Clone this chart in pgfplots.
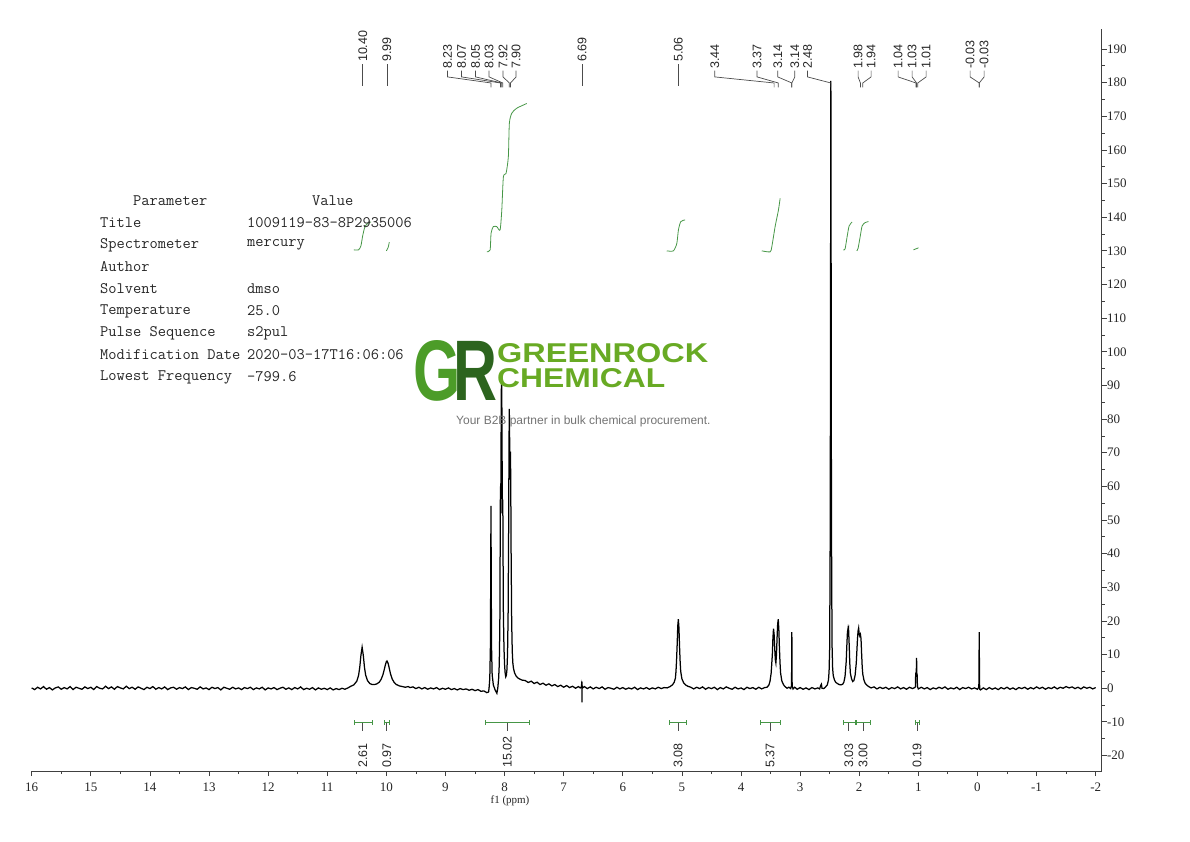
\documentclass[border=0pt]{standalone}
\usepackage{fontspec}
\usepackage{graphicx}
\usepackage{pgfplots}
\pgfplotsset{compat=1.18}
\setmainfont{Liberation Serif}
\newfontfamily\sansf{Liberation Sans}

\definecolor{intg}{RGB}{70,150,70}
\definecolor{grG}{RGB}{76,156,40}
\definecolor{grR}{RGB}{44,100,30}
\definecolor{grT}{RGB}{104,170,36}

% peak label with a straight line
\newcommand{\psl}[2]{%
  \draw[black!70, line width=0.7pt] (axis cs:#1,185.4) -- (axis cs:#1,179.0);
  \node[rotate=90, anchor=west, inner sep=0pt, text=black!85, font=\sansf\fontsize{12.5}{14}\selectfont] at (axis cs:#1,186.1) {#2};}
% peak label of a group: label ppm, peak ppm, text
\newcommand{\pgl}[3]{%
  \draw[black!70, line width=0.7pt] (axis cs:#1,183.6) -- (axis cs:#1,181.7) -- (axis cs:#2,179.9) -- (axis cs:#2,178.6);
  \node[rotate=90, anchor=west, inner sep=0pt, text=black!85, font=\sansf\fontsize{12.5}{14}\selectfont] at (axis cs:#1,184.1) {#3};}
% integral bracket: from, to, centre, value
\newcommand{\brk}[4]{%
  \draw[intg, line width=0.8pt] (axis cs:#1,-10.2) -- (axis cs:#2,-10.2);
  \draw[intg, line width=0.8pt] (axis cs:#1,-9.5) -- (axis cs:#1,-10.9);
  \draw[intg, line width=0.8pt] (axis cs:#2,-9.5) -- (axis cs:#2,-10.9);
  \draw[black!70, line width=0.8pt] (axis cs:#3,-10.2) -- (axis cs:#3,-12.7);
  \node[rotate=90, anchor=west, inner sep=0pt, text=black!85, font=\sansf\fontsize{12.5}{14}\selectfont] at (axis cs:#3,-23.7) {#4};}

\begin{document}
\begin{tikzpicture}
\useasboundingbox (0,0) rectangle (1190pt,-841pt);
\begin{axis}[
  at={(31.7pt,-771pt)}, anchor=south west,
  scale only axis, width=1069.9pt, height=742.2pt,
  x dir=reverse, xmin=-2.1, xmax=16, ymin=-24.6, ymax=196,
  axis x line*=bottom, axis y line*=right,
  axis line style={-, black!75, line width=0.8pt},
  xtick={-2,-1,...,16}, ytick={-20,-10,...,190},
  minor x tick num=1, minor y tick num=1,
  tick align=outside, major tick length=5pt, minor tick length=3pt,
  tick style={black!75, line width=0.8pt},
  ticklabel style={font=\fontsize{13}{15}\selectfont, text=black!85},
  xticklabel style={yshift=-3pt},
  yticklabel style={xshift=-3pt},
  /pgf/number format/assume math mode=true,
  clip=false,
]
% spectrum
\addplot[black, line width=1.25pt, mark=none] table {
x y
16.00 0.1
15.95 -0.4
15.90 0.3
15.85 -0.2
15.80 0.5
15.75 -0.3
15.70 0.2
15.65 -0.5
15.60 0.1
15.55 0.4
15.50 -0.3
15.45 0.2
15.40 -0.2
15.35 0.5
15.30 -0.4
15.25 0.3
15.20 0.0
15.15 -0.3
15.10 0.4
15.05 -0.1
15.00 0.3
14.95 -0.4
14.90 0.5
14.85 0.0
14.80 -0.2
14.75 0.6
14.70 -0.1
14.65 0.4
14.60 -0.3
14.55 0.5
14.50 0.1
14.45 -0.2
14.40 0.6
14.35 -0.1
14.30 0.3
14.25 -0.3
14.20 0.4
14.15 0.0
14.10 -0.4
14.05 0.3
14.00 -0.1
13.95 0.5
13.90 -0.3
13.85 0.2
13.80 -0.2
13.75 0.4
13.70 -0.4
13.65 0.1
13.60 0.3
13.55 -0.3
13.50 0.2
13.45 -0.1
13.40 0.4
13.35 -0.4
13.30 0.2
13.25 0.0
13.20 -0.3
13.15 0.4
13.10 -0.2
13.05 0.1
13.00 -0.4
12.95 0.3
12.90 -0.1
12.85 0.2
12.80 -0.5
12.75 0.3
12.70 0.0
12.65 -0.3
12.60 0.3
12.55 -0.2
12.50 0.1
12.45 -0.4
12.40 0.2
12.35 -0.1
12.30 0.3
12.25 -0.4
12.20 0.1
12.15 -0.2
12.10 0.3
12.05 -0.5
12.00 0.1
11.95 -0.2
11.90 0.2
11.85 -0.4
11.80 0.0
11.75 0.3
11.70 -0.3
11.65 0.1
11.60 -0.4
11.55 0.2
11.50 -0.2
11.45 0.4
11.40 -0.4
11.35 0.0
11.30 -0.3
11.25 0.2
11.20 -0.5
11.15 0.1
11.10 -0.3
11.05 0.0
11.00 -0.4
10.95 0.1
10.90 -0.5
10.85 -0.1
10.80 -0.4
10.75 0.0
10.70 -0.3
10.65 0.1
10.60 0.6
10.55 1.0
10.50 2.1
10.47 3.8
10.45 6.2
10.43 9.8
10.41 12.2
10.39 9.8
10.37 6.2
10.35 3.9
10.32 2.3
10.28 1.4
10.24 1.1
10.20 1.1
10.16 1.3
10.12 1.8
10.09 2.6
10.06 3.9
10.04 5.2
10.02 6.7
10.00 7.9
9.99 8.1
9.97 7.4
9.95 5.9
9.93 4.3
9.90 2.7
9.87 1.8
9.83 1.1
9.78 0.7
9.73 0.5
9.68 0.3
9.63 0.5
9.60 0.2
9.55 0.4
9.50 -0.1
9.45 0.3
9.40 -0.2
9.35 0.2
9.30 -0.3
9.25 0.1
9.20 -0.2
9.15 0.2
9.10 -0.4
9.05 0.0
9.00 -0.3
8.95 0.1
8.90 -0.4
8.85 -0.1
8.80 -0.5
8.75 -0.1
8.70 -0.4
8.65 -0.2
8.60 -0.6
8.55 -0.3
8.50 -0.7
8.45 -0.4
8.40 -0.9
8.35 -0.8
8.30 -1.3
8.27 -1.1
8.26 0.5
8.25 3
8.24 12
8.235 30
8.23 54.2
8.225 30
8.22 12
8.21 4
8.19 1
8.16 -0.5
8.13 -1.5
8.115 0
8.10 3
8.09 7
8.08 18
8.075 40
8.07 60
8.065 52
8.06 70
8.055 88
8.05 93.5
8.045 82
8.04 62
8.035 52
8.03 56
8.025 38
8.02 22
8.01 12
8.00 7
7.99 4.5
7.98 3.4
7.97 3.8
7.96 5.5
7.95 10
7.94 22
7.93 50
7.925 72
7.92 83
7.915 76
7.91 62
7.905 66
7.90 70.3
7.895 60
7.89 42
7.88 20
7.87 11
7.86 7.5
7.85 6
7.83 4.5
7.80 3.5
7.77 3.0
7.74 2.7
7.70 2.4
7.65 2.3
7.60 1.7
7.55 2.1
7.50 1.4
7.45 1.8
7.40 1.1
7.35 1.5
7.30 0.9
7.25 1.3
7.20 0.7
7.15 1.1
7.10 0.5
7.05 0.9
7.00 0.3
6.95 0.8
6.90 0.2
6.85 0.6
6.80 0.0
6.75 0.5
6.72 0.1
6.70 0.4
6.692 2.0
6.690 -4.2
6.688 0.8
6.68 0.1
6.65 0.5
6.60 -0.1
6.55 0.4
6.50 -0.2
6.45 0.3
6.40 -0.1
6.35 0.4
6.30 -0.3
6.25 0.2
6.20 0.0
6.15 -0.3
6.10 0.3
6.05 -0.2
6.00 0.2
5.95 -0.3
5.90 0.1
5.85 -0.2
5.80 0.3
5.75 -0.4
5.70 0.1
5.65 -0.2
5.60 0.2
5.55 -0.3
5.50 0.1
5.45 -0.2
5.40 0.3
5.35 -0.1
5.30 0.2
5.25 0.1
5.20 0.5
5.16 1.0
5.13 1.8
5.11 3.0
5.10 5
5.09 8.5
5.08 13
5.07 18.5
5.06 20.5
5.05 18
5.04 12.5
5.03 8
5.02 5
5.00 2.8
4.97 1.6
4.93 0.9
4.90 0.6
4.85 0.3
4.80 -0.2
4.75 0.3
4.70 -0.1
4.65 0.4
4.60 -0.3
4.55 0.2
4.50 -0.1
4.45 0.3
4.40 -0.4
4.35 0.2
4.30 -0.2
4.25 0.4
4.20 0.0
4.15 -0.3
4.10 0.3
4.05 -0.2
4.00 0.1
3.95 -0.4
3.90 0.3
3.85 -0.1
3.80 0.2
3.75 -0.3
3.70 0.3
3.65 -0.2
3.60 0.2
3.56 0.3
3.53 0.9
3.51 2.0
3.49 4.5
3.47 10
3.46 15
3.45 17.7
3.44 16
3.43 12
3.42 8.5
3.41 7.5
3.40 10
3.39 15
3.38 19
3.37 20.5
3.36 17.5
3.35 12
3.34 7.5
3.33 4.5
3.31 2.2
3.28 1.0
3.25 0.4
3.22 0.0
3.19 0.3
3.16 -0.1
3.145 0.8
3.14 16.7
3.135 0.8
3.12 -0.2
3.09 0.3
3.05 -0.3
3.00 0.2
2.95 -0.3
2.90 0.1
2.85 -0.4
2.80 0.2
2.75 -0.2
2.70 0.1
2.67 -0.2
2.65 0.9
2.64 1.2
2.63 0.0
2.60 -0.1
2.57 0.4
2.54 1.0
2.52 2.5
2.51 5
2.50 12
2.49 50
2.485 120
2.48 180.5
2.475 120
2.47 50
2.46 13
2.45 6
2.44 3.8
2.42 2.5
2.40 1.8
2.37 1.4
2.34 1.1
2.31 1.0
2.28 1.2
2.26 1.8
2.24 3.5
2.22 8
2.21 12.5
2.20 16.5
2.19 17.7
2.185 17
2.18 17.4
2.17 13
2.16 7.5
2.15 4.5
2.13 2.8
2.11 2.0
2.09 2.3
2.07 3.8
2.05 7.5
2.04 11
2.03 14.5
2.02 17
2.01 17.9
2.00 16
1.99 15.5
1.98 16
1.97 14.8
1.96 10.5
1.95 6.5
1.94 4.2
1.92 2.4
1.90 1.5
1.87 0.9
1.84 0.5
1.80 0.1
1.75 0.4
1.70 -0.2
1.65 0.3
1.60 -0.1
1.55 0.3
1.50 -0.3
1.45 0.2
1.40 -0.1
1.35 0.4
1.30 -0.2
1.25 0.2
1.20 -0.3
1.15 0.3
1.10 -0.1
1.06 0.2
1.05 0.4
1.045 4.2
1.04 4.6
1.035 4.3
1.03 9.0
1.025 4.4
1.02 4.0
1.015 0.5
1.00 -0.2
0.95 0.3
0.90 -0.2
0.85 0.2
0.80 -0.4
0.75 0.1
0.70 -0.2
0.65 0.3
0.60 -0.1
0.55 0.4
0.50 -0.3
0.45 0.1
0.40 -0.2
0.35 0.3
0.30 -0.4
0.25 0.2
0.20 -0.1
0.15 0.3
0.10 -0.2
0.05 0.1
0.00 -0.3
-0.02 0.2
-0.025 1.5
-0.03 16.7
-0.035 1.5
-0.04 -0.3
-0.05 -0.5
-0.10 0.1
-0.15 -0.4
-0.20 0.2
-0.25 -0.3
-0.30 0.1
-0.35 -0.4
-0.40 0.2
-0.45 -0.2
-0.50 0.3
-0.55 -0.3
-0.60 0.1
-0.65 -0.4
-0.70 0.2
-0.75 -0.1
-0.80 0.3
-0.85 -0.3
-0.90 0.2
-0.95 -0.2
-1.00 0.4
-1.05 -0.1
-1.10 0.3
-1.15 -0.3
-1.20 0.2
-1.25 -0.1
-1.30 0.4
-1.35 -0.2
-1.40 0.3
-1.45 0.0
-1.50 0.5
-1.55 0.1
-1.60 0.4
-1.65 -0.1
-1.70 0.3
-1.75 -0.2
-1.80 0.4
-1.85 0.0
-1.90 0.3
-1.95 -0.2
-2.00 0.2
};

% integral curves
\addplot[intg, line width=0.8pt, smooth, tension=0.4] coordinates {
(10.55,130.3) (10.47,130.3) (10.43,131.5) (10.40,134.5) (10.36,137.3) (10.30,138.3) (10.26,138.6)};
\addplot[intg, line width=0.8pt, smooth, tension=0.4] coordinates {
(10.00,130.0) (9.97,131.0) (9.95,132.6)};
\addplot[intg, line width=0.8pt, smooth, tension=0.4] coordinates {
(8.301,129.75) (8.245,130.25) (8.228,135.3) (8.190,137.2) (8.132,137.2) (8.076,136.2)
(8.047,142.1) (8.020,152.0) (7.975,153.0) (7.936,158.0) (7.919,167.9) (7.878,170.9)
(7.794,172.4) (7.624,173.8)};
\addplot[intg, line width=0.8pt, smooth, tension=0.4] coordinates {
(5.256,130.0) (5.144,130.0) (5.086,132.2) (5.059,136.2) (5.019,138.7) (4.946,139.2)};
\addplot[intg, line width=0.8pt, smooth, tension=0.4] coordinates {
(3.648,130.0) (3.508,129.7) (3.479,131.2) (3.423,137.2) (3.367,142.1) (3.338,145.6)};
\addplot[intg, line width=0.8pt, smooth, tension=0.4] coordinates {
(2.267,130.3) (2.239,130.6) (2.205,134.2) (2.171,137.4) (2.120,138.6)};
\addplot[intg, line width=0.8pt, smooth, tension=0.4] coordinates {
(2.041,130.0) (2.019,130.8) (1.985,134.1) (1.951,137.4) (1.900,138.4) (1.844,138.7)};
\addplot[intg, line width=0.8pt] coordinates {
(1.083,130.3) (0.998,130.9)};

% peak labels
\psl{10.40}{10.40}
\psl{9.99}{9.99}
\psl{6.69}{6.69}
\psl{5.06}{5.06}
\pgl{8.964}{8.23}{8.23}
\pgl{8.727}{8.07}{8.07}
\pgl{8.491}{8.05}{8.05}
\pgl{8.262}{8.03}{8.03}
\pgl{8.025}{7.92}{7.92}
\pgl{7.805}{7.90}{7.90}
\pgl{4.443}{3.44}{3.44}
\pgl{3.728}{3.37}{3.37}
\pgl{3.379}{3.14}{3.14}
\pgl{3.090}{3.14}{3.14}
\pgl{2.875}{2.48}{2.48}
\pgl{2.019}{1.98}{1.98}
\pgl{1.799}{1.94}{1.94}
\pgl{1.342}{1.04}{1.04}
\pgl{1.105}{1.03}{1.03}
\pgl{0.868}{1.01}{1.01}
\pgl{0.124}{-0.03}{-0.03}
\pgl{-0.113}{-0.03}{-0.03}

% integral brackets and values
\brk{10.541}{10.230}{10.400}{2.61}
\brk{10.039}{9.955}{9.993}{0.97}
\brk{8.318}{7.585}{7.953}{15.02}
\brk{5.212}{4.917}{5.064}{3.08}
\brk{3.665}{3.338}{3.508}{5.37}
\brk{2.267}{2.069}{2.176}{3.03}
\brk{2.052}{1.815}{1.934}{3.00}
\brk{1.054}{0.981}{1.020}{0.19}
\end{axis}

\begin{scope}[x=1pt, y=-1pt]
\node[font=\fontsize{11}{13}\selectfont, text=black!85] at (510,801) {f1 (ppm)};
% parameter table
\begin{scope}[every node/.style={anchor=west, inner sep=0pt, text=black!85, font=\ttfamily\fontsize{16}{18}\selectfont}]
\node at (133,201) {Parameter};
\node at (312,201) {Value};
\node at (100,223) {Title};
\node at (247,223) {1009119-83-8P2935006};
\node at (100,245) {Spectrometer};
\node at (247,245) {mercury};
\node at (100,267) {Author};
\node at (100,289) {Solvent};
\node at (247,289) {dmso};
\node at (100,311) {Temperature};
\node at (247,311) {25.0};
\node at (100,333) {Pulse Sequence};
\node at (247,333) {s2pul};
\node at (100,355) {Modification Date};
\node at (247,355) {2020-03-17T16:06:06};
\node at (100,377) {Lowest Frequency};
\node at (247,377) {-799.6};
\end{scope}
% watermark
\node[anchor=north west, inner sep=0pt] at (413,340)
  {\resizebox{84pt}{60pt}{\sansf\bfseries{\color{grG}G}\kern-0.12em{\color{grR}R}}};
\node[anchor=north west, inner sep=0pt] at (497,343)
  {\resizebox{211pt}{19pt}{\color{grT}\sansf\bfseries GREENROCK}};
\node[anchor=north west, inner sep=0pt] at (497,368)
  {\resizebox{168pt}{19pt}{\color{grT}\sansf\bfseries CHEMICAL}};
\node[anchor=west, inner sep=0pt, text=black!55, font=\sansf\fontsize{12}{14}\selectfont] at (456,421)
  {Your B2B partner in bulk chemical procurement.};
\end{scope}
\end{tikzpicture}
\end{document}
